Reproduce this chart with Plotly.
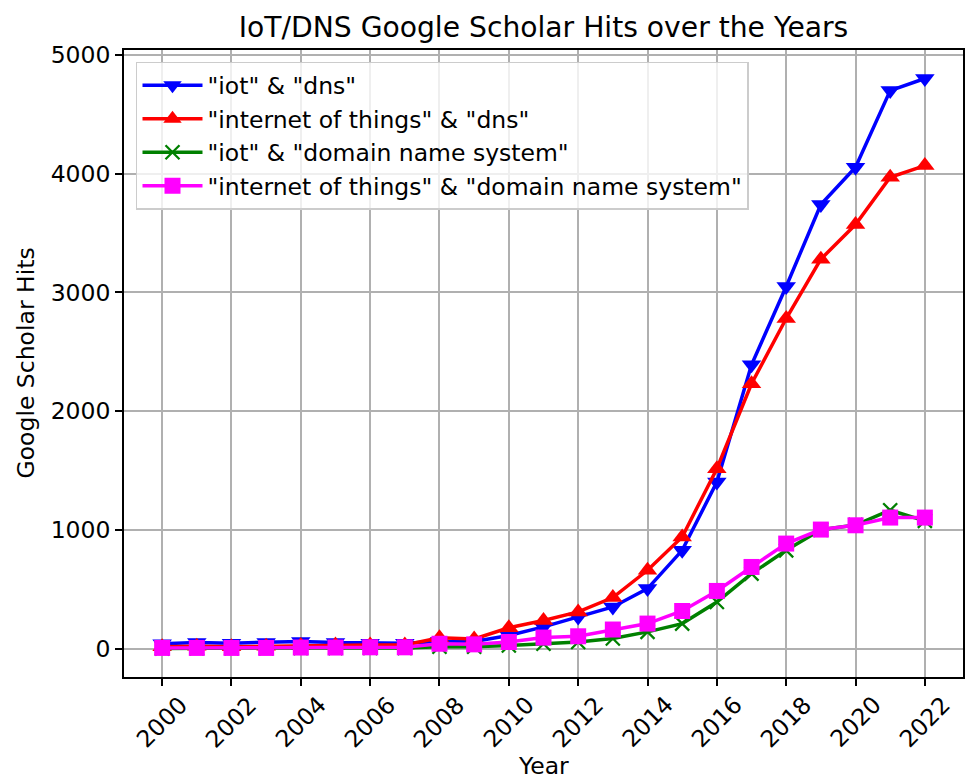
import plotly.graph_objects as go

years = list(range(2000, 2023))
iot_dns = [40, 50, 45, 50, 60, 50, 45, 45, 60, 60, 110, 182, 266, 350, 505, 827, 1402, 2390, 3050, 3740, 4054, 4700, 4802]
iot_internet_dns = [15, 20, 15, 20, 25, 30, 30, 30, 90, 80, 175, 236, 308, 429, 659, 940, 1515, 2230, 2780, 3280, 3572, 3970, 4068]
iot_domain = [0, 3, 3, 3, 5, 5, 5, 5, 15, 15, 25, 40, 55, 84, 140, 210, 392, 631, 827, 1000, 1040, 1165, 1075]
internet_domain = [5, 5, 5, 5, 8, 8, 10, 10, 40, 35, 55, 92, 103, 160, 210, 316, 485, 687, 884, 1002, 1038, 1103, 1103]

names = ['"iot" & "dns"', '"internet of things" & "dns"',
         '"iot" & "domain name system"', '"internet of things" & "domain name system"']
colors = ["#0000ff", "#ff0000", "#008000", "#ff00ff"]
symbols = ["triangle-down", "triangle-up", "x-thin", "square"]
series = [iot_dns, iot_internet_dns, iot_domain, internet_domain]

xticks = list(range(2000, 2023, 2))
yticks = [0, 1000, 2000, 3000, 4000, 5000]

font = "DejaVu Sans, Liberation Sans, sans-serif"
FS = 23.5
fig = go.Figure()
for i, (nm, c, s, vals) in enumerate(zip(names, colors, symbols, series)):
    marker = dict(symbol=s, color=c, size=17)
    if s == "x-thin":
        marker.update(line=dict(color=c, width=2.3), size=14)
    elif s == "square":
        marker.update(line=dict(width=0), size=16)
    else:
        marker.update(line=dict(width=0))
    fig.add_trace(go.Scatter(x=years, y=vals, mode="lines+markers", name=nm,
                             line=dict(color=c, width=3.5), marker=marker,
                             legendgroup=str(i)))

axis_common = dict(showline=True, linecolor="black", linewidth=1.7, mirror=True,
                   ticks="outside", ticklen=7, tickwidth=1.7, tickcolor="black",
                   showgrid=True, gridcolor="#b0b0b0", gridwidth=1.7, zeroline=False,
                   automargin=False,
                   tickfont=dict(family=font, size=FS, color="black"))

annotations = []
for t in xticks:
    annotations.append(dict(x=t, y=0, xref="x", yref="paper", text=str(t), showarrow=False,
                            textangle=-45, xanchor="center", yanchor="middle", yshift=-45,
                            font=dict(family=font, size=FS, color="black")))
annotations.append(dict(x=0.5, y=0, xref="paper", yref="paper", text="Year", showarrow=False,
                        xanchor="center", yanchor="middle", yshift=-89,
                        font=dict(family=font, size=FS, color="black")))
annotations.append(dict(x=0, y=0.5, xref="paper", yref="paper", text="Google Scholar Hits",
                        showarrow=False, textangle=-90, xanchor="center", yanchor="middle",
                        xshift=-99, font=dict(family=font, size=FS, color="black")))

fig.update_layout(
    width=965, height=780,
    margin=dict(l=124, r=2, t=50, b=103),
    paper_bgcolor="white", plot_bgcolor="white",
    title=dict(text="IoT/DNS Google Scholar Hits over the Years", x=(124 + 963) / 2 / 965, xanchor="center",
               y=1 - 27 / 780, yanchor="middle", font=dict(family=font, size=28.2, color="black")),
    xaxis=dict(range=[1998.9, 2023.1], tickvals=xticks, ticktext=["" for t in xticks],
               **axis_common),
    yaxis=dict(range=[-240, 5042], tickvals=yticks, ticktext=[str(t) for t in yticks],
               **axis_common),
    legend=dict(x=0.0143, y=0.981, xanchor="left", yanchor="top",
                bgcolor="rgba(255,255,255,0.8)", bordercolor="#cccccc", borderwidth=1.5,
                font=dict(family=font, size=FS, color="black"),
                itemwidth=60,
                tracegroupgap=0, traceorder="grouped"),
    annotations=annotations,
    showlegend=True,
)
fig.write_html("out.html", config={"displayModeBar": False},
               post_script="document.body.style.margin='0';document.body.style.overflow='hidden';")
